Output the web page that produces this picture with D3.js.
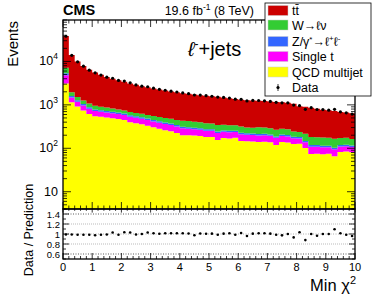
<!DOCTYPE html>
<html>
<head>
<meta charset="utf-8">
<script src="https://cdn.jsdelivr.net/npm/d3@7"></script>
<style>
  body { margin: 0; background: #fff; }
  svg { display: block; font-family: "Liberation Sans", Arial, sans-serif; }
</style>
</head>
<body>
<div id="graph"></div>
<script>
// 50 bins of width 0.2 in min chi2, 0 -> 10
let binWidth = 0.2;
let binLow = d3.range(50).map((i) => +(i * binWidth).toFixed(1));

// stacked backgrounds, events per bin
let ttbar = [31250, 12050, 8440, 6640, 5320, 4640, 4010, 3510, 3160, 2920,
  2660, 2440, 2250, 2080, 1950, 1830, 1740, 1640, 1560, 1500,
  1430, 1370, 1320, 1270, 1240, 1200, 1190, 1120, 1070, 1030,
  1000, 980, 960, 940, 920, 900, 890, 860, 840, 815,
  690, 685, 680, 630, 600, 580, 555, 510, 490, 475];
let wJets = [1775, 340, 230, 215, 195, 175, 155, 140, 125, 115,
  110, 108, 105, 102, 105, 106, 104, 103, 104, 106,
  115, 116, 112, 108, 102, 96, 100, 92, 88, 85,
  90, 80, 80, 90, 86, 80, 80, 76, 70, 60,
  55, 68, 62, 60, 62, 60, 62, 54, 55, 48];
let zJets = [540, 130, 100, 82, 70, 62, 58, 56, 53, 50,
  48, 45, 42, 40, 37, 35, 33, 31, 29, 27,
  25, 24, 23, 22, 21, 21, 19, 19, 19, 18,
  17, 17, 16, 16, 16, 15, 14, 15, 15, 13,
  13, 11, 10, 10, 9, 9, 8, 9, 9, 9];
let singleTop = [1711, 330, 270, 225, 195, 175, 165, 158, 152, 146,
  140, 132, 126, 120, 114, 108, 104, 100, 96, 92,
  88, 84, 80, 76, 73, 70, 69, 67, 65, 62,
  63, 61, 60, 59, 58, 57, 55, 53, 52, 46,
  42, 36, 35, 34, 33, 31, 29, 28, 27, 26];
let qcd = [3124, 1147, 914, 740, 619, 545, 530, 512, 493, 470,
  446, 399, 379, 359, 332, 307, 283, 262, 248, 224,
  201, 199, 196, 191, 181, 183, 155, 172, 169, 174,
  147, 145, 143, 139, 141, 137, 119, 139, 136, 125,
  127, 101, 74, 75, 73, 75, 66, 82, 84, 81];

// data / prediction per bin
let ratio = [0.99, 0.99, 0.985, 0.985, 0.985, 0.975, 0.985, 0.99, 1.03, 0.985,
  1.035, 1.03, 0.99, 1.0, 1.03, 1.015, 1.005, 1.015, 1.015, 1.015,
  1.015, 1.01, 0.975, 1.01, 1.005, 1.007, 0.986, 1.007, 1.014, 0.986,
  1.02, 0.96, 1.007, 1.014, 1.014, 1.007, 0.986, 0.973, 1.0, 0.932,
  1.034, 0.878, 1.0, 0.966, 1.0, 1.0, 1.095, 1.014, 0.986, 0.96];

let xTickLabels = [0, 1, 2, 3, 4, 5, 6, 7, 8, 9, 10];
let ratioTickLabels = [0.6, 0.8, 1, 1.2, 1.4];
let logDecades = [1, 2, 3, 4];

let keys = ["qcd", "singleTop", "zJets", "wJets", "ttbar"];
let colors = {
  ttbar: "#cc0000",
  wJets: "#33cc33",
  zJets: "#3366ff",
  singleTop: "#ff00ff",
  qcd: "#ffff00",
};

// geometry
let W = 374, H = 299;
let left = 63, right = 355, mainTop = 20, mainBottom = 209, ratioBottom = 259;

let svg = d3.select("#graph").append("svg").attr("width", W).attr("height", H);
svg.append("rect").attr("width", W).attr("height", H).attr("fill", "#fff");

let x = d3.scaleLinear().domain([0, 10]).range([left, right]);
let y = d3.scaleLog().domain([4, 90000]).range([mainBottom, mainTop]).clamp(true);
let yr = d3.scaleLinear().domain([0.5, 1.5]).range([ratioBottom, mainBottom]);

svg.append("clipPath").attr("id", "mainClip")
  .append("rect").attr("x", left).attr("y", mainTop)
  .attr("width", right - left).attr("height", mainBottom - mainTop);

// stack the backgrounds
let rows = binLow.map((lo, i) => ({
  lo: lo, qcd: qcd[i], singleTop: singleTop[i], zJets: zJets[i],
  wJets: wJets[i], ttbar: ttbar[i],
}));
let stacked = d3.stack().keys(keys)(rows);
let total = rows.map((r) => keys.reduce((s, k) => s + r[k], 0));
let dataCounts = total.map((t, i) => t * ratio[i]);

let area = d3.area().curve(d3.curveStepAfter)
  .x((d) => x(d.lo))
  .y0((d) => y(Math.max(d.v0, 4)))
  .y1((d) => y(d.v1));

let gStack = svg.append("g").attr("clip-path", "url(#mainClip)");
stacked.forEach((layer) => {
  let pts = layer.map((d) => ({ lo: d.data.lo, v0: d[0], v1: d[1] }));
  let last = pts[pts.length - 1];
  pts.push({ lo: last.lo + binWidth, v0: last.v0, v1: last.v1 });
  gStack.append("path").attr("d", area(pts)).attr("fill", colors[layer.key]);
});

// ratio panel guide lines
function hline(v, color, dash, width) {
  svg.append("line")
    .attr("x1", left).attr("x2", right)
    .attr("y1", yr(v)).attr("y2", yr(v))
    .attr("stroke", color).attr("stroke-width", width)
    .attr("stroke-dasharray", dash);
}
hline(1.4, "#333", "1,1.5", 0.8);
hline(0.6, "#333", "1,1.5", 0.8);
hline(1.2, "#aaa", "1,1", 0.8);
hline(0.8, "#aaa", "1,1", 0.8);
hline(1.0, "#999", "1,1.5", 0.8);

// ticks, ROOT style (inside the frame)
let gTicks = svg.append("g").attr("stroke", "#000").attr("stroke-width", 0.8);
d3.range(51).forEach((i) => {
  let v = i * binWidth;
  let major = i % 5 === 0;
  let px = x(v);
  let lenMain = major ? 7 : 3.5;
  let lenRatio = major ? 6 : 3;
  gTicks.append("line").attr("x1", px).attr("x2", px)
    .attr("y1", mainBottom).attr("y2", mainBottom - lenMain);
  gTicks.append("line").attr("x1", px).attr("x2", px)
    .attr("y1", mainTop).attr("y2", mainTop + lenMain);
  gTicks.append("line").attr("x1", px).attr("x2", px)
    .attr("y1", ratioBottom).attr("y2", ratioBottom - lenRatio);
  gTicks.append("line").attr("x1", px).attr("x2", px)
    .attr("y1", mainBottom).attr("y2", mainBottom + lenRatio * 0.6);
});

// log ticks on both sides of the main panel
let logTicks = [];
[1, 10, 100, 1000, 10000].forEach((dec) => {
  d3.range(1, 10).forEach((m) => {
    let v = dec * m;
    if (v >= 4 && v <= 90000) logTicks.push({ v: v, major: m === 1 });
  });
});
logTicks.forEach((t) => {
  let len = t.major ? 8 : 4;
  let py = y(t.v);
  gTicks.append("line").attr("x1", left).attr("x2", left + len)
    .attr("y1", py).attr("y2", py);
  gTicks.append("line").attr("x1", right).attr("x2", right - len)
    .attr("y1", py).attr("y2", py);
});

// ratio y ticks
d3.range(5, 16).forEach((i) => {
  let v = i / 10;
  let major = i % 2 === 0;
  let len = major ? 6 : 3;
  gTicks.append("line").attr("x1", left).attr("x2", left + len)
    .attr("y1", yr(v)).attr("y2", yr(v));
  gTicks.append("line").attr("x1", right).attr("x2", right - len)
    .attr("y1", yr(v)).attr("y2", yr(v));
});

// data points
svg.append("g").selectAll("circle").data(dataCounts).join("circle")
  .attr("cx", (d, i) => x(binLow[i] + binWidth / 2))
  .attr("cy", (d) => y(d))
  .attr("r", 1.6).attr("fill", "#000");

svg.append("g").selectAll("circle").data(ratio).join("circle")
  .attr("cx", (d, i) => x(binLow[i] + binWidth / 2))
  .attr("cy", (d) => yr(d))
  .attr("r", 1.3).attr("fill", "#000");

// frames
svg.append("rect").attr("x", left).attr("y", mainTop)
  .attr("width", right - left).attr("height", mainBottom - mainTop)
  .attr("fill", "none").attr("stroke", "#000").attr("stroke-width", 1.3);
svg.append("rect").attr("x", left).attr("y", mainBottom)
  .attr("width", right - left).attr("height", ratioBottom - mainBottom)
  .attr("fill", "none").attr("stroke", "#000").attr("stroke-width", 1.3);

// tick labels
svg.append("g").selectAll("text").data(xTickLabels).join("text")
  .attr("x", (d) => x(d)).attr("y", 271)
  .attr("text-anchor", "middle").attr("font-size", 11)
  .text((d) => d);

logDecades.forEach((p) => {
  let t = svg.append("text")
    .attr("x", 58).attr("y", y(Math.pow(10, p)) + 4)
    .attr("text-anchor", "end").attr("font-size", 12.5);
  t.append("tspan").text("10");
  if (p > 1) {
    t.append("tspan").attr("dy", -6).attr("font-size", 8.5).text(p);
  }
});

svg.append("g").selectAll("text").data(ratioTickLabels).join("text")
  .attr("x", 60).attr("y", (d) => yr(d) + 3.5)
  .attr("text-anchor", "end").attr("font-size", 9.5)
  .text((d) => d);

// axis titles
svg.append("text")
  .attr("transform", "translate(18,21) rotate(-90)")
  .attr("text-anchor", "end").attr("font-size", 15)
  .text("Events");

svg.append("text")
  .attr("transform", "translate(33,230) rotate(-90)")
  .attr("text-anchor", "middle").attr("font-size", 12.5)
  .text("Data / Prediction");

let xTitle = svg.append("text")
  .attr("x", 356).attr("y", 291)
  .attr("text-anchor", "end").attr("font-size", 16.5);
xTitle.append("tspan").text("Min \u03c7");
xTitle.append("tspan").attr("dy", -7).attr("font-size", 11).text("2");

// header
svg.append("text").attr("x", 63).attr("y", 15)
  .attr("font-size", 14.5).attr("font-weight", "bold").text("CMS");

let lumi = svg.append("text").attr("x", 254).attr("y", 15)
  .attr("text-anchor", "end").attr("font-size", 12.5);
lumi.append("tspan").text("19.6 fb");
lumi.append("tspan").attr("dy", -5).attr("font-size", 8.5).text("-1");
lumi.append("tspan").attr("dy", 5).text(" (8 TeV)");

let chan = svg.append("text").attr("x", 188).attr("y", 56).attr("font-size", 20);
chan.append("tspan").attr("font-style", "italic").text("\u2113");
chan.append("tspan").attr("dy", -8).attr("font-size", 12).text("-");
chan.append("tspan").attr("dy", 8).text("+jets");

// legend
let legend = svg.append("g");
legend.append("rect").attr("x", 265).attr("y", 3).attr("width", 106).attr("height", 93)
  .attr("fill", "#fff").attr("stroke", "#000").attr("stroke-width", 0.8);

let legendRows = [
  { key: "ttbar", cy: 10.5 },
  { key: "wJets", cy: 25 },
  { key: "zJets", cy: 41.5 },
  { key: "singleTop", cy: 56.5 },
  { key: "qcd", cy: 72 },
];
legendRows.forEach((r) => {
  legend.append("rect").attr("x", 268).attr("y", r.cy - 5)
    .attr("width", 20).attr("height", 10)
    .attr("fill", colors[r.key]).attr("stroke", "#ccc").attr("stroke-width", 0.5);
});

function legText(cy) {
  return legend.append("text").attr("x", 292).attr("y", cy + 4.5).attr("font-size", 12.5);
}
legText(10.5).text("t\u0074\u0304");
legText(25).text("W\u2192\u2113\u03bd");
let zt = legText(41.5);
zt.append("tspan").text("Z/\u03b3");
zt.append("tspan").attr("dy", -4).attr("font-size", 8).text("*");
zt.append("tspan").attr("dy", 4).text("\u2192\u2113");
zt.append("tspan").attr("dy", -5).attr("font-size", 8).text("+");
zt.append("tspan").attr("dy", 5).text("\u2113");
zt.append("tspan").attr("dy", -5).attr("font-size", 8).text("-");
legText(56.5).text("Single t");
legText(72).text("QCD multijet");
legText(87.5).text("Data");

legend.append("circle").attr("cx", 278).attr("cy", 87.5).attr("r", 1.6).attr("fill", "#000");
legend.append("line").attr("x1", 278).attr("x2", 278).attr("y1", 84).attr("y2", 91)
  .attr("stroke", "#000").attr("stroke-width", 0.8);
</script>
</body>
</html>
